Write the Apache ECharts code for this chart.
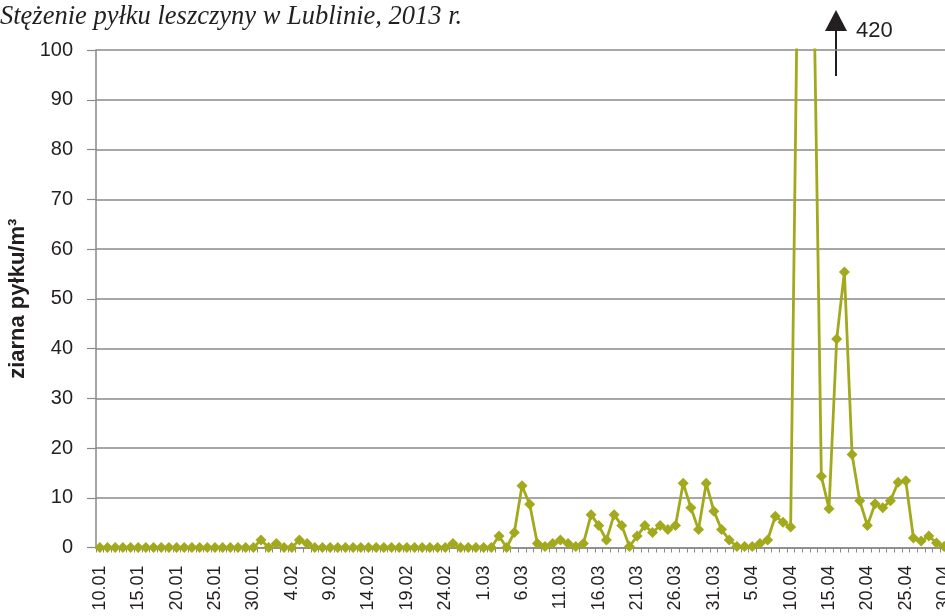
<!DOCTYPE html>
<html>
<head>
<meta charset="utf-8">
<script src="https://cdn.jsdelivr.net/npm/echarts@6/dist/echarts.min.js"></script>
<style>html,body{margin:0;padding:0;background:#fff;}#c{width:945px;height:616px;}</style>
</head>
<body>
<div id="c"></div>
<script>
const titleText = 'Stężenie pyłku leszczyny w Lublinie, 2013 r.';
const yAxisName = 'ziarna pyłku/m³';
const peakLabel = '420';
const yTicks = [0, 10, 20, 30, 40, 50, 60, 70, 80, 90, 100];

const categories = [
  '10.01','11.01','12.01','13.01','14.01','15.01','16.01','17.01','18.01','19.01','20.01','21.01','22.01','23.01','24.01','25.01','26.01','27.01','28.01','29.01','30.01','31.01',
  '1.02','2.02','3.02','4.02','5.02','6.02','7.02','8.02','9.02','10.02','11.02','12.02','13.02','14.02','15.02','16.02','17.02','18.02','19.02','20.02','21.02','22.02','23.02','24.02','25.02','26.02','27.02','28.02',
  '1.03','2.03','3.03','4.03','5.03','6.03','7.03','8.03','9.03','10.03','11.03','12.03','13.03','14.03','15.03','16.03','17.03','18.03','19.03','20.03','21.03','22.03','23.03','24.03','25.03','26.03','27.03','28.03','29.03','30.03','31.03',
  '1.04','2.04','3.04','4.04','5.04','6.04','7.04','8.04','9.04','10.04','11.04','12.04','13.04','14.04','15.04','16.04','17.04','18.04','19.04','20.04','21.04','22.04','23.04','24.04','25.04','26.04','27.04','28.04','29.04','30.04'
];

const valuesJan = [0,0,0,0,0,0,0,0,0,0,0,0,0,0,0,0,0,0,0,0,0,1.5];
const valuesFeb = [0,0.8,0,0,1.5,0.8,0,0,0,0,0,0,0,0,0,0,0,0,0,0,0,0,0,0,0.8,0,0,0];
const valuesMar = [0,0,2.3,0,3.0,12.4,8.7,0.8,0.2,0.8,1.5,0.8,0.2,0.8,6.6,4.4,1.5,6.6,4.4,0.2,2.3,4.4,3.0,4.4,3.6,4.4,12.9,8.0,3.6,12.9,7.3];
const valuesApr = [3.6,1.5,0.2,0.2,0.2,0.8,1.5,6.3,5.1,4.1,128,420,115,14.3,7.8,41.9,55.4,18.7,9.4,4.4,8.8,8.0,9.4,13.1,13.4,1.9,1.3,2.3,0.9,0.2];
const values = valuesJan.concat(valuesFeb, valuesMar, valuesApr);

const chart = echarts.init(document.getElementById('c'), null, {renderer: 'canvas'});
const lineColor = '#a2a91c';
const gridColor = '#8a8a8a';
const textColor = '#231f20';

chart.setOption({
  backgroundColor: '#ffffff',
  animation: false,
  title: {
    text: titleText,
    left: -5,
    top: -1,
    textStyle: {fontFamily: 'Liberation Serif', fontStyle: 'italic', fontWeight: 'normal', fontSize: 26.5, color: textColor}
  },
  grid: {left: 96, top: 50, width: 852, height: 497.5, containLabel: false, outerBoundsMode: 'none'},
  xAxis: {
    type: 'category',
    data: categories,
    boundaryGap: true,
    axisLine: {show: true, lineStyle: {color: gridColor, width: 1.5}},
    axisTick: {show: true, interval: 0, length: 5, lineStyle: {color: gridColor, width: 1}},
    axisLabel: {interval: 4, rotate: 90, margin: 18, fontFamily: 'Liberation Sans', fontSize: 18, color: textColor},
    splitLine: {show: false}
  },
  yAxis: {
    type: 'value',
    min: yTicks[0],
    max: yTicks[yTicks.length - 1],
    interval: 10,
    name: yAxisName,
    nameLocation: 'middle',
    nameGap: 61,
    nameTextStyle: {fontFamily: 'Liberation Sans', fontWeight: 'bold', fontSize: 22, color: textColor},
    axisLine: {show: true, lineStyle: {color: gridColor, width: 1.5}},
    axisTick: {show: true, length: 9, lineStyle: {color: gridColor, width: 1.2}},
    axisLabel: {margin: 23, fontFamily: 'Liberation Sans', fontSize: 20, color: textColor},
    splitLine: {show: true, lineStyle: {color: gridColor, width: 1.5}}
  },
  series: [{
    type: 'line',
    data: values,
    clip: true,
    symbol: 'diamond',
    symbolSize: 11,
    showAllSymbol: true,
    itemStyle: {color: lineColor},
    lineStyle: {color: lineColor, width: 2.8}
  }],
  graphic: [
    {type: 'line', shape: {x1: 836, y1: 28, x2: 836, y2: 76}, style: {stroke: textColor, lineWidth: 2}},
    {type: 'polygon', shape: {points: [[836, 10], [825, 31], [847, 31]]}, style: {fill: textColor}},
    {type: 'text', left: 856, top: 20, style: {text: peakLabel, font: '22px "Liberation Sans"', fill: textColor}}
  ]
});
</script>
</body>
</html>
